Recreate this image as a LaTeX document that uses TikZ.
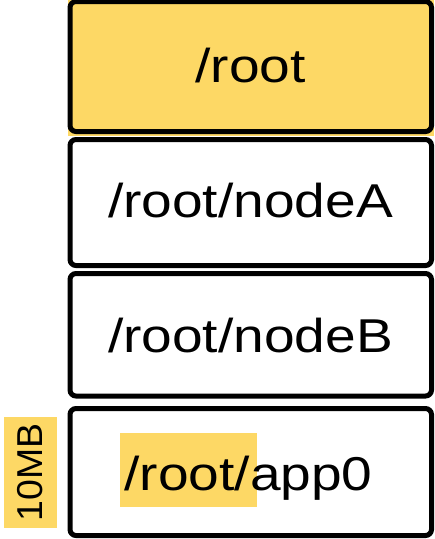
\documentclass[tikz,border=0pt]{standalone}
\usepackage{fontspec}
\setmainfont{Liberation Sans}
\usepackage{graphicx}
\definecolor{hl}{HTML}{FDD865}
\tikzset{
  boxline/.style={draw=black, line width=5pt, rounded corners=6pt},
  lbl/.style={anchor=base, inner sep=0pt, font=\fontsize{47.5}{57}\selectfont},
  sizelbl/.style={fill=hl, rotate=90, inner sep=0pt, minimum width=111pt, minimum height=53pt, font=\fontsize{36}{43}\selectfont}
}
\newcommand{\wide}[1]{\scalebox{1.16}[1]{#1}}
\begin{document}
\begin{tikzpicture}[x=1pt, y=-1pt]
\useasboundingbox (0,0) rectangle (435,539);
% yellow fill of root box
\fill[hl] (67.5,0) rectangle (434,136);
% boxes
\draw[boxline] (70,1.5) rectangle (431.5,131.5);
\draw[boxline] (70,139.5) rectangle (431.5,265.5);
\draw[boxline] (70,273.5) rectangle (431.5,396);
\draw[boxline] (70,408.5) rectangle (431.5,535.5);
% highlight behind /root/ in app0
\fill[hl] (120,433) rectangle (257,507);
% labels
\node[lbl] (troot) at (250.5,82) {\wide{/root}};
\node[lbl] (ta) at (250.5,217) {\wide{/root/nodeA}};
\node[lbl] (tb) at (250.5,352) {\wide{/root/nodeB}};
\node[lbl] (tc) at (248.5,490) {\wide{/root/app0}};
% size label
\node[sizelbl] (size) at (30.5,472.5) {\scalebox{1.04}[1]{10MB}};
\end{tikzpicture}
\end{document}
